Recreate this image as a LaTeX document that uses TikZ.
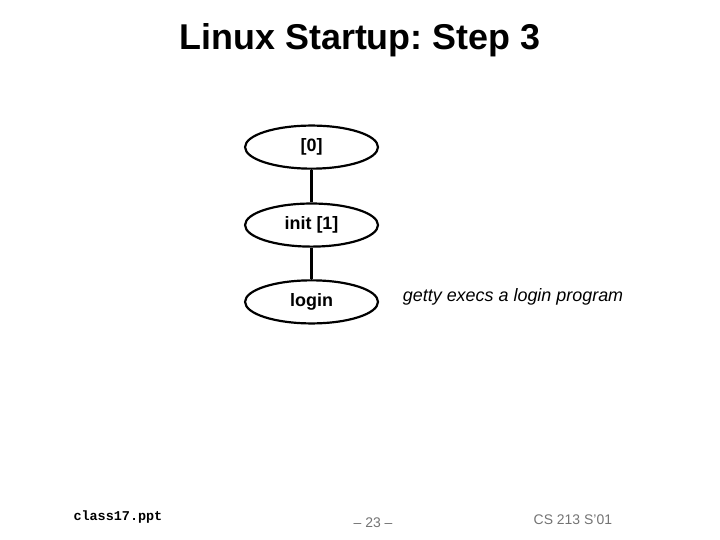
\documentclass[tikz,border=0pt]{standalone}
\usepackage{fontspec}
\setmainfont{Liberation Sans}
\setmonofont{Liberation Mono}
\usetikzlibrary{shapes.geometric, positioning}
\frenchspacing

\begin{document}
\begin{tikzpicture}[
    line width=2.2pt,
    proc/.style={
        draw,
        ellipse,
        inner sep=0pt,
        minimum width=4.69cm,
        minimum height=1.52cm,
        font=\fontsize{18}{20}\selectfont\bfseries
    },
    link/.style={line width=2.2pt},
    footer/.style={
        text=black!55,
        font=\fontsize{14}{16}\selectfont
    }
]

% Slide frame (10in x 7.5in)
\useasboundingbox (0,0) rectangle (25.4,19.05);

% Title
\node[font=\fontsize{36}{40}\selectfont\bfseries] (title) at (12.70,17.64) {Linux Startup: Step 3};

% Process tree
\node[proc] (p0) at (10.99,13.86) {[0]};
\node[proc] (init) at (10.99,11.11) {init [1]};
\node[proc] (login) at (10.99,8.40) {login};

\draw[link] (p0) -- (init);
\draw[link] (init) -- (login);

% Note
\node[font=\fontsize{18}{20}\selectfont\itshape] (note) at (18.10,8.57) {getty execs a login program};

% Footer
\node[font=\fontsize{13.5}{15}\selectfont\ttfamily\bfseries] (file) at (4.16,0.81) {class17.ppt};
\node[footer] (page) at (13.16,0.60) {-- 23 --};
\node[footer] (course) at (20.21,0.71) {CS 213 S'01};

\end{tikzpicture}
\end{document}
